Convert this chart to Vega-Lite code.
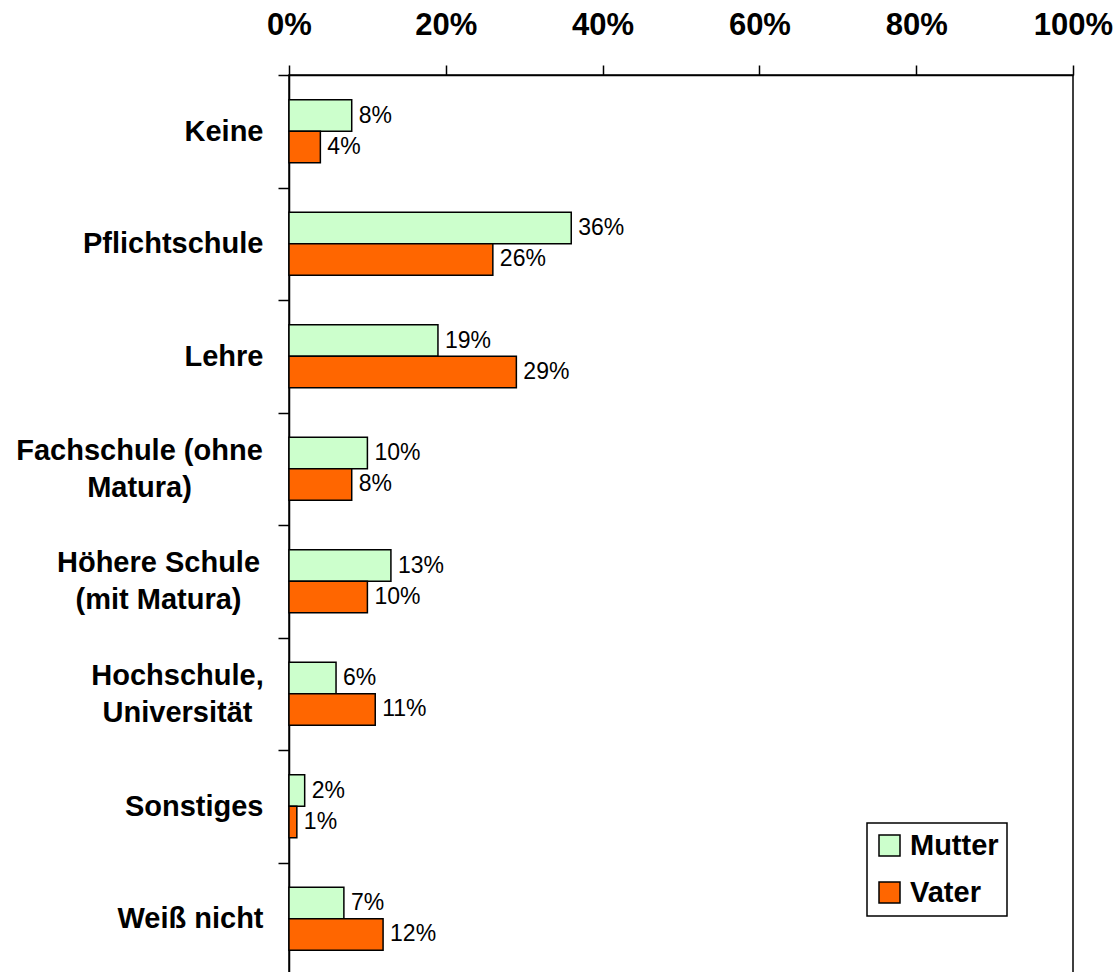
{
  "$schema": "https://vega.github.io/schema/vega-lite/v6.json",
  "width": 784,
  "height": 900,
  "autosize": {"type": "none"},
  "padding": {"left": 289, "top": 75, "right": 44, "bottom": 0},
  "background": "white",
  "config": {
    "font": "Liberation Sans",
    "view": {"stroke": "black", "strokeWidth": 1.5}
  },
  "data": {
    "values": [
      {"Abschluss": "Keine", "Elternteil": "Mutter", "Anteil": 0.08},
      {"Abschluss": "Keine", "Elternteil": "Vater", "Anteil": 0.04},
      {"Abschluss": "Pflichtschule", "Elternteil": "Mutter", "Anteil": 0.36},
      {"Abschluss": "Pflichtschule", "Elternteil": "Vater", "Anteil": 0.26},
      {"Abschluss": "Lehre", "Elternteil": "Mutter", "Anteil": 0.19},
      {"Abschluss": "Lehre", "Elternteil": "Vater", "Anteil": 0.29},
      {"Abschluss": "Fachschule (ohne Matura)", "Elternteil": "Mutter", "Anteil": 0.10},
      {"Abschluss": "Fachschule (ohne Matura)", "Elternteil": "Vater", "Anteil": 0.08},
      {"Abschluss": "Höhere Schule (mit Matura)", "Elternteil": "Mutter", "Anteil": 0.13},
      {"Abschluss": "Höhere Schule (mit Matura)", "Elternteil": "Vater", "Anteil": 0.10},
      {"Abschluss": "Hochschule, Universität", "Elternteil": "Mutter", "Anteil": 0.06},
      {"Abschluss": "Hochschule, Universität", "Elternteil": "Vater", "Anteil": 0.11},
      {"Abschluss": "Sonstiges", "Elternteil": "Mutter", "Anteil": 0.02},
      {"Abschluss": "Sonstiges", "Elternteil": "Vater", "Anteil": 0.01},
      {"Abschluss": "Weiß nicht", "Elternteil": "Mutter", "Anteil": 0.07},
      {"Abschluss": "Weiß nicht", "Elternteil": "Vater", "Anteil": 0.12}
    ]
  },
  "encoding": {
    "y": {
      "field": "Abschluss",
      "type": "nominal",
      "sort": null,
      "scale": {"paddingInner": 0, "paddingOuter": 0},
      "axis": {
        "title": null,
        "orient": "left",
        "domainColor": "black",
        "domainWidth": 1.5,
        "tickColor": "black",
        "tickWidth": 1.5,
        "tickSize": 11,
        "tickBand": "extent",
        "labelFontSize": 29,
        "labelFontWeight": "bold",
        "labelColor": "black",
        "labelLimit": 400,
        "labelLineHeight": 37,
        "labelExpr": "datum.value == 'Fachschule (ohne Matura)' ? ['Fachschule (ohne', 'Matura)'] : datum.value == 'Höhere Schule (mit Matura)' ? ['Höhere Schule', '(mit Matura)'] : datum.value == 'Hochschule, Universität' ? ['Hochschule,', 'Universität'] : datum.label",
        "labelAlign": {
          "condition": {"test": "indexof(['Fachschule (ohne Matura)', 'Höhere Schule (mit Matura)', 'Hochschule, Universität'], datum.value) >= 0", "value": "center"},
          "value": "right"
        },
        "labelOffset": {
          "condition": {"test": "indexof(['Fachschule (ohne Matura)', 'Höhere Schule (mit Matura)', 'Hochschule, Universität'], datum.value) >= 0", "value": -18.5},
          "value": 0
        },
        "labelPadding": {
          "condition": [
            {"test": "datum.value == 'Fachschule (ohne Matura)'", "value": 139},
            {"test": "datum.value == 'Höhere Schule (mit Matura)'", "value": 120},
            {"test": "datum.value == 'Hochschule, Universität'", "value": 101}
          ],
          "value": 15
        }
      }
    },
    "yOffset": {
      "field": "Elternteil",
      "type": "nominal",
      "sort": ["Mutter", "Vater"],
      "scale": {"paddingInner": 0, "paddingOuter": 0.786}
    },
    "x": {
      "field": "Anteil",
      "type": "quantitative",
      "scale": {"domain": [0, 1], "nice": false},
      "axis": {
        "title": null,
        "orient": "top",
        "values": [0, 0.2, 0.4, 0.6, 0.8, 1],
        "format": ".0%",
        "grid": false,
        "domainColor": "black",
        "domainWidth": 1.5,
        "tickColor": "black",
        "tickWidth": 1.5,
        "tickSize": 10,
        "labelFontSize": 31,
        "labelFontWeight": "bold",
        "labelColor": "black",
        "labelPadding": 24,
        "labelFlush": false,
        "labelOverlap": false
      }
    }
  },
  "layer": [
    {
      "mark": {"type": "bar", "stroke": "black", "strokeWidth": 1.5},
      "encoding": {
        "color": {
          "field": "Elternteil",
          "type": "nominal",
          "scale": {"domain": ["Mutter", "Vater"], "range": ["#CCFFCC", "#FF6600"]},
          "legend": {
            "title": null,
            "orient": "none",
            "legendX": 578,
            "legendY": 748,
            "strokeColor": "black",
            "fillColor": "white",
            "padding": 8,
            "symbolType": "square",
            "symbolSize": 441,
            "symbolStrokeColor": "black",
            "symbolStrokeWidth": 1.5,
            "symbolOpacity": 1,
            "labelFontSize": 29,
            "labelFontWeight": "bold",
            "labelColor": "black",
            "labelOffset": 6,
            "rowPadding": 17,
            "encode": {
              "legend": {"update": {"strokeWidth": {"value": 1.5}}}
            }
          }
        }
      }
    },
    {
      "mark": {"type": "text", "align": "left", "baseline": "middle", "dx": 7, "fontSize": 23, "color": "black"},
      "encoding": {
        "text": {"field": "Anteil", "type": "quantitative", "format": ".0%"}
      }
    }
  ]
}
